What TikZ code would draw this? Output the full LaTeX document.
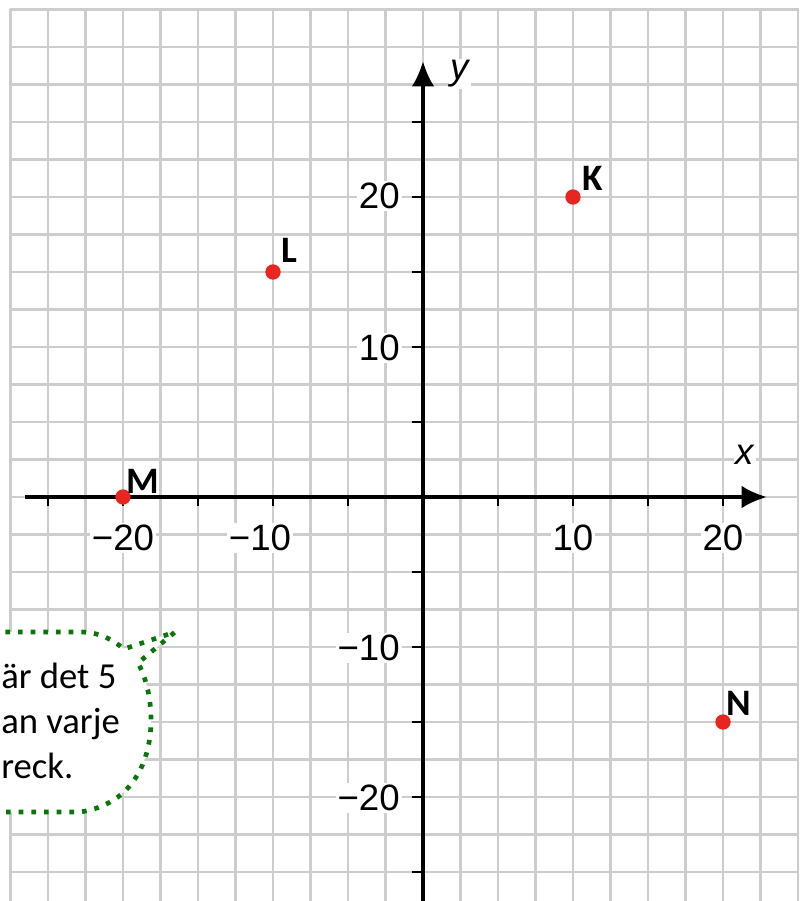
\documentclass[tikz,border=0pt]{standalone}
\usepackage{fontspec}
\setmainfont{Liberation Sans}
\newfontfamily\calfont{Carlito}
\usetikzlibrary{arrows.meta}
\definecolor{ptred}{HTML}{E8251E}
\definecolor{calgreen}{HTML}{0A760A}
\definecolor{gridgray}{HTML}{CDCDCD}
\tikzset{
  gridline/.style={draw=gridgray, line width=2.2pt},
  axisline/.style={line width=3pt, -{Latex[length=19pt,width=17pt]}},
  tickline/.style={line width=1.8pt},
  ticklabel/.style={fill=white, inner sep=1.5pt, font=\fontsize{27.5}{31}\selectfont},
  axislabel/.style={fill=white, inner sep=1.5pt, font=\itshape\fontsize{27.5}{31}\selectfont},
  ptdot/.style={circle, fill=ptred, inner sep=0pt, minimum size=11.5pt},
  ptlabel/.style={inner sep=0pt, font=\calfont\bfseries\fontsize{28}{32}\selectfont},
  callout/.style={draw=calgreen, line width=3.5pt, dash pattern=on 3.5pt off 6pt, fill=white},
  callouttext/.style={inner sep=0pt, anchor=base west, font=\calfont\fontsize{27.5}{32}\selectfont}
}
\begin{document}
\begin{tikzpicture}[x=0.75pt,y=-0.75pt]
\useasboundingbox (0,0) rectangle (809,901);
\fill[white] (0,0) rectangle (809,901);
% grid
\foreach \i in {0,...,21} \draw[gridline] ({10.5+37.5*\i},8.5) -- ({10.5+37.5*\i},905);
\foreach \j in {0,...,23} \draw[gridline] (9.5,{9.5+37.5*\j}) -- (799,{9.5+37.5*\j});
% callout
\draw[callout] (-20,632) -- (80,632) .. controls (100,632) and (113,640) .. (124,649)
  -- (175,632) -- (138,663) .. controls (160,702) and (162,800) .. (80,812) -- (-20,812) -- cycle;
\node[callouttext] (t1) at (1,688) {är det 5};
\node[callouttext] (t2) at (1,733) {an varje};
\node[callouttext] (t3) at (1,778) {reck.};
% axes
\coordinate (xs) at (25,497);
\coordinate (xe) at (767,497);
\coordinate (ys) at (423,905);
\coordinate (ye) at (423,61);
\draw[axisline] (xs) -- (xe);
\draw[axisline] (ys) -- (ye);
% ticks
\foreach \k in {-5,...,-1,1,2,3,4} \draw[tickline] ({423+75*\k},497) -- ({423+75*\k},506);
\foreach \k in {-5,...,-1,1,2,...,5} \draw[tickline] (412,{497-75*\k}) -- (423,{497-75*\k});
% tick labels
\node[ticklabel] (lxm20) at (123,538) {−20};
\node[ticklabel] (lxm10) at (260,538) {−10};
\node[ticklabel] (lx10) at (573,538) {10};
\node[ticklabel] (lx20) at (723,538) {20};
\node[ticklabel, anchor=east] (ly20) at (402,196) {20};
\node[ticklabel, anchor=east] (ly10) at (402,348) {10};
\node[ticklabel, anchor=east] (lym10) at (402,648) {−10};
\node[ticklabel, anchor=east] (lym20) at (402,798) {−20};
\node[axislabel] (lx) at (745,455) {x};
\node[axislabel] (ly) at (460,74) {y};
% points
\node[ptdot] (K) at (573,197) {};
\node[ptdot] (L) at (273,272) {};
\node[ptdot] (M) at (123,497) {};
\node[ptdot] (N) at (723,722) {};
\node[ptlabel] (Kl) at (593,178) {K};
\node[ptlabel] (Ll) at (289,250) {L};
\node[ptlabel] (Ml) at (143,481) {M};
\node[ptlabel] (Nl) at (739,703) {N};
\end{tikzpicture}
\end{document}
